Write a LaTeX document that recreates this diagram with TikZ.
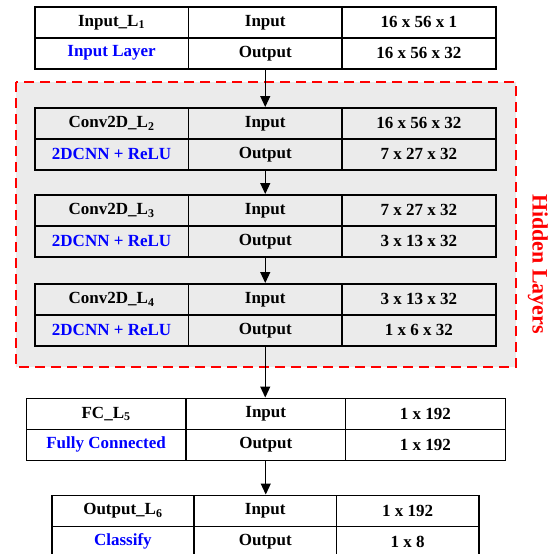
\documentclass[tikz,border=0pt]{standalone}
\usepackage{fontspec}
\setmainfont{Liberation Serif}
\usetikzlibrary{arrows.meta}
\definecolor{hidgray}{RGB}{235,235,235}
\tikzset{
  cell/.style={draw, line width=1.5pt, anchor=north west, minimum height=31pt,
    inner sep=0pt, font=\bfseries\fontsize{17}{20}\selectfont},
  flow/.style={-{Triangle[width=10pt,length=11pt]}, line width=1.2pt},
}

\begin{document}
\begin{tikzpicture}[x=1pt,y=-1pt]
\useasboundingbox (0,0) rectangle (553,554);
% hidden layers
\draw[red, fill=hidgray, line width=2pt, dash pattern=on 10pt off 6pt] (16,82) rectangle (516,367);
\node[red, rotate=-90, font=\bfseries\fontsize{22}{26}\selectfont] (hid) at (538,264) {Hidden Layers};

\foreach \n/\xl/\w/\yt/\nm/\s/\ty/\ii/\oo in {
    l1/34/461/6/Input/1/{Input Layer}/{16 x 56 x 1}/{16 x 56 x 32},
    l2/34/461/107/Conv2D/2/{2DCNN + ReLU}/{16 x 56 x 32}/{7 x 27 x 32},
    l3/34/461/194/Conv2D/3/{2DCNN + ReLU}/{7 x 27 x 32}/{3 x 13 x 32},
    l4/34/461/283/Conv2D/4/{2DCNN + ReLU}/{3 x 13 x 32}/{1 x 6 x 32},
    l5/25.5/479/397.5/FC/5/{Fully Connected}/{1 x 192}/{1 x 192},
    l6/51/427/494.5/Output/6/Classify/{1 x 192}/{1 x 8}}
{
  \node[cell, minimum width=\w/3] (\n-a) at (\xl,\yt) {\nm\_L\textsubscript{\s}};
  \node[cell, minimum width=\w/3] (\n-b) at (\xl+\w/3,\yt) {Input};
  \node[cell, minimum width=\w/3] (\n-c) at (\xl+2*\w/3,\yt) {\ii};
  \node[cell, minimum width=\w/3, text=blue] (\n-d) at (\xl,\yt+31) {\ty};
  \node[cell, minimum width=\w/3] (\n-e) at (\xl+\w/3,\yt+31) {Output};
  \node[cell, minimum width=\w/3] (\n-f) at (\xl+2*\w/3,\yt+31) {\oo};
}

\draw[flow] (l1-e.south) -- (l1-e.south |- l2-b.north);
\draw[flow] (l2-e.south) -- (l2-e.south |- l3-b.north);
\draw[flow] (l3-e.south) -- (l3-e.south |- l4-b.north);
\draw[flow] (l4-e.south) -- (l4-e.south |- l5-b.north);
\draw[flow] (l5-e.south) -- (l5-e.south |- l6-b.north);
\end{tikzpicture}
\end{document}
